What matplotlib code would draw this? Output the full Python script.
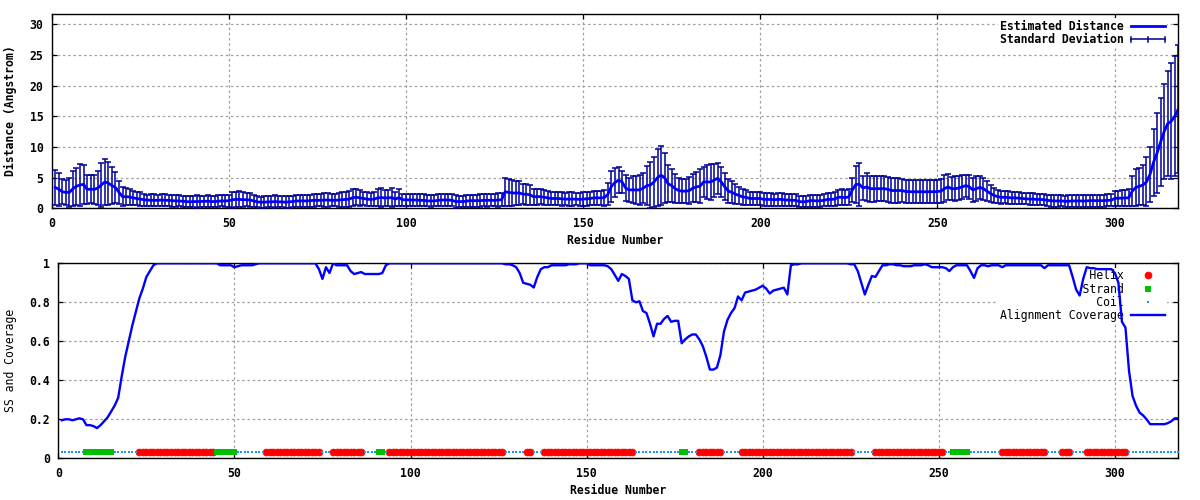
import numpy as np
import matplotlib
matplotlib.use("Agg")
import matplotlib.pyplot as plt
from matplotlib.lines import Line2D
from matplotlib.legend_handler import HandlerBase
from matplotlib.container import ErrorbarContainer

# ---------------- data ----------------
residues = np.arange(1, 319)

distance = [
    # 1-25
    3.4, 3.1, 2.7, 2.6, 2.6, 3.2, 3.6, 3.8, 3.9, 3.1, 3.1, 3.1, 3.3, 3.8, 4.3, 4.1, 3.7, 3.4, 2.6, 1.9, 1.9, 1.85, 1.7, 1.6, 1.5,
    # 26-37
    1.4, 1.35, 1.3, 1.3, 1.3, 1.35, 1.3, 1.3, 1.25, 1.2, 1.2, 1.15,
    # 38-50
    1.1, 1.05, 1.1, 1.1, 1.1, 1.15, 1.15, 1.1, 1.1, 1.15, 1.2, 1.2, 1.25,
    # 51-57
    1.4, 1.45, 1.45, 1.4, 1.4, 1.35, 1.2,
    # 58-70
    1.05, 1.0, 1.0, 1.05, 1.05, 1.1, 1.05, 1.05, 1.0, 1.05, 1.1, 1.2, 1.2,
    # 71-84
    1.2, 1.2, 1.25, 1.3, 1.3, 1.3, 1.35, 1.35, 1.3, 1.3, 1.35, 1.4, 1.45, 1.5,
    # 85-100
    1.75, 1.8, 1.7, 1.6, 1.5, 1.45, 1.5, 1.7, 1.75, 1.7, 1.7, 1.75, 1.5, 1.75, 1.4, 1.4,
    # 101-127
    1.35, 1.35, 1.35, 1.3, 1.3, 1.2, 1.2, 1.2, 1.3, 1.35, 1.35, 1.35, 1.3, 1.1, 1.1, 1.1, 1.15, 1.25, 1.25, 1.25,
    1.25, 1.3, 1.3, 1.3, 1.3, 1.35, 1.4,
    # 128-140
    2.7, 2.6, 2.5, 2.5, 2.5, 2.3, 2.3, 2.2, 1.9, 1.9, 1.9, 1.8, 1.7,
    # 141-156
    1.6, 1.6, 1.6, 1.55, 1.5, 1.5, 1.5, 1.5, 1.45, 1.5, 1.55, 1.6, 1.7, 1.7, 1.7, 1.75,
    # 157-200
    2.3, 3.6, 4.2, 4.6, 4.3, 3.3, 3.0, 3.0, 3.0, 3.0, 3.3, 3.7, 3.8, 4.3, 5.0, 5.4, 5.0, 4.0, 3.7, 3.2,
    2.9, 2.8, 2.8, 2.9, 3.3, 3.5, 3.6, 4.3, 4.3, 4.3, 4.6, 4.9, 4.3, 3.5, 2.8, 2.6, 2.3, 2.1, 1.85, 1.8,
    1.6, 1.6, 1.6, 1.6,
    # 201-225
    1.45, 1.45, 1.45, 1.4, 1.45, 1.45, 1.35, 1.35, 1.3, 1.3, 1.1, 1.05, 1.1, 1.25, 1.25, 1.2, 1.25, 1.3, 1.45, 1.45,
    1.5, 1.8, 1.8, 1.75, 1.85,
    # 226-251
    3.0, 3.9, 3.9, 3.3, 3.5, 3.2, 3.2, 3.2, 3.2, 3.2, 3.1, 2.9, 2.9, 2.9, 2.9, 2.75, 2.7, 2.7, 2.7, 2.7,
    2.7, 2.7, 2.7, 2.7, 2.75, 2.8,
    # 252-270
    3.2, 3.5, 3.2, 3.2, 3.3, 3.5, 3.7, 3.5, 3.0, 3.2, 3.4, 3.2, 2.8, 2.4, 2.1, 1.9, 1.8, 1.8, 1.75,
    # 271-304
    1.7, 1.7, 1.65, 1.6, 1.55, 1.5, 1.5, 1.45, 1.45, 1.4, 1.3, 1.25, 1.2, 1.2, 1.2, 1.15, 1.15, 1.2, 1.2, 1.2,
    1.2, 1.2, 1.25, 1.25, 1.25, 1.25, 1.25, 1.3, 1.3, 1.6, 1.65, 1.65, 1.7, 1.7,
    # 305-318
    2.8, 3.4, 3.6, 3.8, 4.3, 5.5, 7.5, 9.0, 10.8, 12.5, 13.8, 14.2, 15.0, 16.2,
]

std_dev = [
    # 1-25
    2.8, 2.7, 2.0, 2.0, 2.4, 2.9, 3.0, 3.4, 3.2, 2.4, 2.3, 2.4, 2.8, 3.6, 3.8, 3.5, 3.0, 2.6, 1.9, 1.6, 1.4, 1.3, 1.2, 1.1, 1.1,
    # 26-37
    1.0, 0.9, 1.0, 1.0, 0.9, 1.0, 1.0, 0.9, 1.0, 1.0, 0.9, 0.9,
    # 38-50
    0.9, 0.9, 0.9, 1.0, 0.9, 0.9, 1.0, 0.9, 0.9, 1.0, 0.9, 1.0, 1.0,
    # 51-57
    1.3, 1.2, 1.3, 1.2, 1.1, 1.2, 1.0,
    # 58-70
    0.9, 0.9, 1.0, 0.9, 0.9, 1.0, 0.9, 0.9, 1.0, 1.0, 0.9, 1.0, 1.0,
    # 71-84
    1.0, 1.0, 1.0, 1.1, 1.0, 1.0, 1.1, 1.1, 1.0, 1.0, 1.1, 1.2, 1.2, 1.3,
    # 85-100
    1.4, 1.3, 1.3, 1.1, 1.1, 1.0, 1.1, 1.4, 1.5, 1.3, 1.3, 1.5, 1.1, 1.4, 1.0, 1.0,
    # 101-127
    1.0, 1.0, 1.0, 1.0, 1.0, 0.9, 1.0, 0.9, 1.0, 1.0, 1.0, 1.0, 1.0, 1.0, 0.9, 0.9, 1.0, 1.0, 1.0, 1.0,
    1.1, 1.0, 1.1, 1.0, 1.0, 1.1, 1.1,
    # 128-140
    2.3, 2.2, 2.1, 2.0, 2.0, 1.6, 1.7, 1.6, 1.3, 1.3, 1.2, 1.2, 1.1,
    # 141-156
    1.1, 1.0, 1.1, 1.1, 1.0, 1.1, 1.1, 1.0, 1.0, 1.1, 1.1, 1.0, 1.2, 1.1, 1.2, 1.3,
    # 157-200
    1.8, 2.5, 2.4, 2.1, 1.8, 2.1, 2.0, 2.2, 2.3, 2.4, 2.5, 3.2, 3.8, 4.1, 4.7, 4.8, 4.1, 3.0, 2.7, 2.4,
    2.0, 1.9, 2.0, 2.2, 2.3, 2.4, 2.8, 2.5, 2.8, 3.0, 2.7, 2.5, 2.4, 2.2, 2.0, 1.8, 1.6, 1.4, 1.3, 1.2,
    1.1, 1.1, 1.0, 1.0,
    # 201-225
    1.0, 1.0, 1.1, 1.0, 1.0, 1.0, 1.0, 1.0, 1.0, 1.0, 0.9, 0.9, 0.9, 1.0, 1.0, 1.0, 1.0, 1.0, 1.1, 1.1,
    1.1, 1.2, 1.3, 1.2, 1.3,
    # 226-251
    2.0, 3.0, 3.5, 2.0, 2.3, 2.1, 2.1, 2.0, 2.0, 2.0, 2.0, 2.0, 2.0, 2.0, 1.9, 1.9, 1.9, 1.9, 1.9, 1.9,
    1.9, 1.9, 1.9, 1.9, 1.9, 1.9,
    # 252-270
    2.2, 2.1, 1.9, 2.0, 2.0, 2.0, 1.8, 2.0, 1.9, 2.0, 1.9, 1.8, 1.6, 1.4, 1.2, 1.1, 1.1, 1.0, 1.0,
    # 271-304
    1.0, 1.0, 1.0, 0.9, 0.9, 1.0, 1.0, 0.9, 0.9, 0.9, 0.9, 1.0, 1.0, 1.0, 0.9, 0.9, 1.0, 1.0, 1.0, 1.0,
    1.0, 1.0, 1.0, 1.0, 1.0, 1.0, 1.0, 1.0, 1.0, 1.2, 1.2, 1.3, 1.3, 1.4,
    # 305-318
    2.4, 3.0, 3.0, 3.3, 4.0, 4.5, 5.5, 6.5, 7.2, 7.8, 8.6, 9.5, 9.8, 10.4,
]

coverage = [
    # 1-27
    0.195, 0.2, 0.2, 0.195, 0.2, 0.205, 0.2, 0.17, 0.17, 0.165, 0.155, 0.17, 0.19, 0.21, 0.24, 0.27, 0.31, 0.42,
    0.52, 0.6, 0.68, 0.75, 0.82, 0.87, 0.93, 0.96, 0.99,
    # 28-45
    1.0, 1.0, 1.0, 1.0, 1.0, 1.0, 1.0, 1.0, 1.0, 1.0, 1.0, 1.0, 1.0, 1.0, 1.0, 1.0, 1.0, 1.0,
    # 46-56
    0.99, 0.99, 0.99, 0.99, 0.98, 0.985, 0.99, 0.99, 0.99, 0.99, 0.995,
    # 57-73
    1.0, 1.0, 1.0, 1.0, 1.0, 1.0, 1.0, 1.0, 1.0, 1.0, 1.0, 1.0, 1.0, 1.0, 1.0, 1.0, 1.0,
    # 74-82
    0.97, 0.92, 0.98, 0.95, 1.0, 0.99, 0.99, 0.99, 0.99,
    # 83-93
    0.96, 0.945, 0.95, 0.955, 0.945, 0.945, 0.945, 0.945, 0.945, 0.95, 0.99,
    # 94-126
    1.0, 1.0, 1.0, 1.0, 1.0, 1.0, 1.0, 1.0, 1.0, 1.0, 1.0, 1.0, 1.0, 1.0, 1.0, 1.0, 1.0, 1.0, 1.0, 1.0,
    1.0, 1.0, 1.0, 1.0, 1.0, 1.0, 1.0, 1.0, 1.0, 1.0, 1.0, 1.0, 1.0,
    # 127-140
    0.995, 0.995, 0.99, 0.98, 0.95, 0.9, 0.895, 0.89, 0.876, 0.93, 0.97, 0.98, 0.98, 0.99,
    # 141-155
    0.99, 0.99, 0.99, 0.99, 0.995, 0.995, 0.995, 1.0, 1.0, 1.0, 0.99, 0.99, 0.99, 0.99, 0.99,
    # 156-210
    0.985, 0.97, 0.94, 0.91, 0.945, 0.935, 0.92, 0.81, 0.80, 0.805,
    0.755, 0.745, 0.69, 0.625, 0.69, 0.69, 0.715, 0.73, 0.70, 0.705,
    0.705, 0.59, 0.61, 0.625, 0.635, 0.635, 0.61, 0.575, 0.52, 0.455,
    0.455, 0.465, 0.53, 0.65, 0.71, 0.745, 0.77, 0.83, 0.81, 0.85,
    0.855, 0.86, 0.865, 0.875, 0.885, 0.87, 0.845, 0.86, 0.865, 0.87,
    0.875, 0.84, 0.99, 0.995, 0.995,
    # 211-226
    1.0, 1.0, 1.0, 1.0, 1.0, 1.0, 1.0, 1.0, 1.0, 1.0, 1.0, 1.0, 1.0, 1.0, 0.995, 0.995,
    # 227-240
    0.96, 0.90, 0.84, 0.89, 0.935, 0.93, 0.96, 0.99, 0.99, 0.995, 0.995, 0.99, 0.99, 0.985,
    # 241-270
    0.985, 0.985, 0.99, 0.99, 0.99, 0.995, 0.99, 0.98, 0.98, 0.98,
    0.98, 0.975, 0.96, 0.98, 0.99, 0.99, 0.99, 0.99, 0.96, 0.925,
    0.975, 0.99, 0.99, 0.985, 0.99, 0.99, 0.99, 0.98, 0.99, 0.99,
    # 271-287
    0.99, 0.99, 0.99, 0.99, 0.99, 0.99, 0.99, 0.99, 0.99, 0.975, 0.99, 0.99, 0.99, 0.99, 0.99, 0.99, 0.99,
    # 288-318
    0.93, 0.865, 0.835, 0.92, 0.98, 0.975, 0.975, 0.97, 0.97, 0.97,
    0.97, 0.97, 0.95, 0.90, 0.70, 0.67, 0.45, 0.32, 0.27, 0.235,
    0.22, 0.2, 0.175, 0.175, 0.175, 0.175, 0.175, 0.18, 0.19, 0.205,
    0.205,
]

# secondary structure, run-length encoded (type, number of residues)
ss_runs = [
    ("C", 7), ("E", 8), ("C", 7), ("H", 22), ("E", 6), ("C", 8), ("H", 16), ("C", 3),
    ("H", 9), ("C", 4), ("E", 2), ("C", 1), ("H", 33), ("C", 6), ("H", 2), ("C", 3),
    ("H", 26), ("C", 13), ("E", 2), ("C", 3), ("H", 7), ("C", 5), ("H", 32), ("C", 6),
    ("H", 20), ("C", 2), ("E", 5), ("C", 9), ("H", 13), ("C", 4), ("H", 3), ("C", 4),
    ("H", 12), ("C", 15),
]
ss_level = 0.03

x_ticks = [0, 50, 100, 150, 200, 250, 300]
top_yticks = [0, 5, 10, 15, 20, 25, 30]
bottom_yticks = [0, 0.2, 0.4, 0.6, 0.8, 1.0]
bottom_ytick_labels = ["0", "0.2", "0.4", "0.6", "0.8", "1"]

assert len(distance) == len(residues), len(distance)
assert len(std_dev) == len(residues), len(std_dev)
assert len(coverage) == len(residues), len(coverage)

ss = "".join(code * n for code, n in ss_runs)
assert len(ss) == len(residues), len(ss)
ss_arr = np.array(list(ss))

# ---------------- style ----------------
plt.rcParams["font.family"] = ["DejaVu Sans Mono", "DejaVu Sans"]
FS = 8.3
plt.rcParams["font.size"] = FS

GRID = dict(color="#a0a0a0", linestyle=(0, (2, 2.2)), linewidth=0.9)
EBAR_COLOR = "#000099"
LINE_BLUE = "#0000ff"


class SDHandler(HandlerBase):
    def create_artists(self, legend, orig_handle, xdescent, ydescent,
                       width, height, fontsize, trans):
        y = height / 2 - ydescent
        x0 = -xdescent
        x1 = x0 + width
        xm = (x0 + x1) / 2
        h = height * 0.3
        arts = [Line2D([x0, x1], [y, y]),
                Line2D([x0, x0], [y - h, y + h]),
                Line2D([x1, x1], [y - h, y + h]),
                Line2D([xm, xm], [y - h, y + h])]
        for a in arts:
            a.set_color(EBAR_COLOR)
            a.set_linewidth(1.1)
            a.set_transform(trans)
        return arts


def style_axes(ax):
    ax.set_axisbelow(True)
    ax.grid(True, **GRID)
    ax.tick_params(direction="in", top=True, right=True, length=3.6, width=0.9,
                   labelsize=FS)
    ax.tick_params(axis="x", pad=6)
    ax.tick_params(axis="y", pad=6)
    for lab in ax.get_xticklabels() + ax.get_yticklabels():
        lab.set_fontweight("bold")
    for s in ax.spines.values():
        s.set_linewidth(1.0)


fig = plt.figure(figsize=(12, 5), dpi=100)

# ---------------- top panel ----------------
ax1 = fig.add_axes([51.7 / 1200, 1 - 208.3 / 500, 1126.6 / 1200, 194.3 / 500])
eb = ax1.errorbar(residues, distance, yerr=std_dev, fmt="none", ecolor=EBAR_COLOR,
                  elinewidth=1.1, capsize=2.4, capthick=1.1, zorder=6,
                  label="Standard Deviation")
line1, = ax1.plot(residues, distance, color=LINE_BLUE, linewidth=2.0, zorder=7,
                  label="Estimated Distance")
ax1.set_xlim(0, 318)
ax1.set_ylim(0, 31.7)
ax1.set_xticks(x_ticks)
ax1.set_yticks(top_yticks)
ax1.set_xticklabels([str(v) for v in x_ticks])
ax1.set_yticklabels([str(v) for v in top_yticks])
style_axes(ax1)
ax1.set_xlabel("Residue Number", fontsize=FS, fontweight="bold", labelpad=3.5)
ax1.set_ylabel("Distance (Angstrom)", fontsize=FS, fontweight="bold")
ax1.yaxis.set_label_coords((17 - 51.7) / 1126.6, 0.5)
leg1 = ax1.legend(handles=[line1, eb], labels=["Estimated Distance", "Standard Deviation"],
                  handler_map={ErrorbarContainer: SDHandler()},
                  loc="upper right", bbox_to_anchor=(0.990, 0.979), borderaxespad=0.0,
                  markerfirst=False, frameon=True, fancybox=False,
                  framealpha=1, facecolor="white", edgecolor="none",
                  prop={"family": "DejaVu Sans Mono", "weight": "bold", "size": FS},
                  handlelength=3.0, handletextpad=0.6, labelspacing=0.03,
                  borderpad=0.15)
leg1.set_zorder(5)

# ---------------- bottom panel ----------------
ax2 = fig.add_axes([58.3 / 1200, 1 - 458.3 / 500, 1120 / 1200, 195 / 500])
res_arr = residues
h_mask = ss_arr == "H"
e_mask = ss_arr == "E"
c_mask = ss_arr == "C"
ss_y = np.full(len(residues), ss_level)
helix_pts, = ax2.plot(res_arr[h_mask], ss_y[h_mask], linestyle="none", marker="o",
                      markersize=5.0, color="#ff0000", markeredgewidth=0.5,
                      markeredgecolor="#ff0000", zorder=3, label="Helix")
strand_pts, = ax2.plot(res_arr[e_mask], ss_y[e_mask], linestyle="none", marker="s",
                       markersize=4.8, color="#00c000", markeredgewidth=0, zorder=3,
                       label="Strand")
coil_pts, = ax2.plot(res_arr[c_mask], ss_y[c_mask], linestyle="none", marker="s",
                     markersize=1.5, color="#1e90ff", markeredgewidth=0, zorder=3,
                     label="Coil")
cov_line, = ax2.plot(residues, coverage, color=LINE_BLUE, linewidth=1.7, zorder=7,
                     label="Alignment Coverage")
ax2.set_xlim(0, 318)
ax2.set_ylim(0, 1)
ax2.set_xticks(x_ticks)
ax2.set_yticks(bottom_yticks)
ax2.set_xticklabels([str(v) for v in x_ticks])
ax2.set_yticklabels(bottom_ytick_labels)
style_axes(ax2)
ax2.set_xlabel("Residue Number", fontsize=FS, fontweight="bold", labelpad=3.5)
ax2.set_ylabel("SS and Coverage", fontsize=FS, fontweight="normal")
ax2.yaxis.set_label_coords((17 - 58.3) / 1120, 0.5)

labels2 = ["Helix", "Strand", "Coil", "Alignment Coverage"]
width = max(len(s) for s in labels2)
padded = [s.rjust(width) for s in labels2]
leg2 = ax2.legend(handles=[helix_pts, strand_pts, coil_pts, cov_line], labels=padded,
                  loc="upper right", bbox_to_anchor=(0.990, 0.978), borderaxespad=0.0,
                  markerfirst=False, frameon=True, fancybox=False,
                  framealpha=1, facecolor="white", edgecolor="none", numpoints=1,
                  prop={"family": "DejaVu Sans Mono", "size": FS},
                  handlelength=3.0, handletextpad=0.6, labelspacing=0.03,
                  borderpad=0.15)
leg2.set_zorder(5)

fig.savefig("out.png", dpi=100)
